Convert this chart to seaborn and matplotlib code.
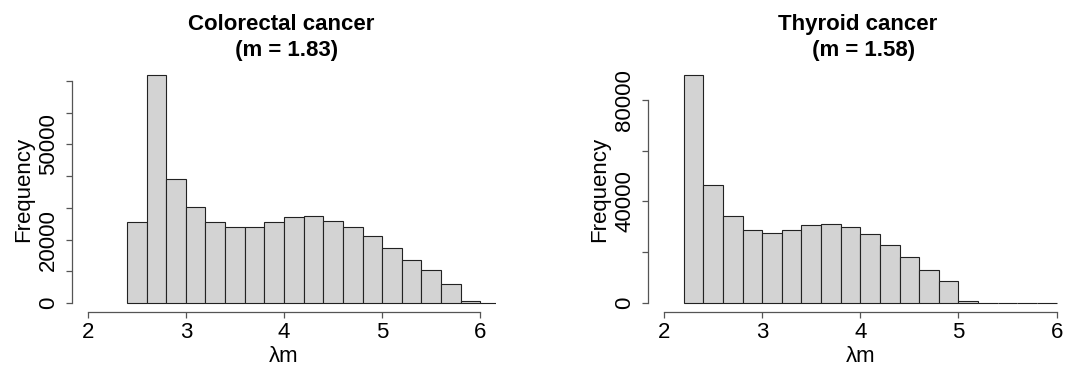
import numpy as np
import pandas as pd
import matplotlib
matplotlib.use("Agg")
import matplotlib.pyplot as plt
import seaborn as sns

# Histogram bin counts of lambda*m for each cancer type (bin width 0.2)
colorectal_breaks = [2.4, 2.6, 2.8, 3.0, 3.2, 3.4, 3.6, 3.8, 4.0, 4.2, 4.4,
                     4.6, 4.8, 5.0, 5.2, 5.4, 5.6, 5.8, 6.0, 6.2]
colorectal_counts = [25500, 71800, 39000, 30200, 25600, 24000, 24000, 25700,
                     27000, 27300, 26000, 24000, 21100, 17300, 13600, 10300,
                     6000, 600, 30]

thyroid_breaks = [2.2, 2.4, 2.6, 2.8, 3.0, 3.2, 3.4, 3.6, 3.8, 4.0, 4.2,
                  4.4, 4.6, 4.8, 5.0, 5.2, 5.4, 5.6, 5.8, 6.0]
thyroid_counts = [89700, 46400, 34300, 28800, 27500, 28700, 30600, 31300,
                  29900, 27100, 23000, 18100, 13200, 8600, 700, 60, 15, 5, 2]

panel_titles = ["Colorectal cancer \n (m = 1.83)", "Thyroid cancer \n (m = 1.58)"]
x_ticks = [2, 3, 4, 5, 6]
colorectal_yticks = [0, 10000, 20000, 30000, 40000, 50000, 60000, 70000]
colorectal_ylabels = ["0", "", "20000", "", "", "50000", "", ""]
thyroid_yticks = [0, 20000, 40000, 60000, 80000]
thyroid_ylabels = ["0", "", "40000", "", "80000"]

sns.set_style("ticks")
plt.rcParams["font.family"] = ["Liberation Sans", "DejaVu Sans"]

W, H = 1066, 373
fig = plt.figure(figsize=(W / 100, H / 100), dpi=100)
bottom = (H - 312.3) / H
height = (312.3 - 65.9) / H
width = 424 / W
ax1 = fig.add_axes([72 / W, bottom, width, height])
ax2 = fig.add_axes([648.3 / W, bottom, width, height])

axis_col = "#555555"
panels = [
    (ax1, colorectal_breaks, colorectal_counts, colorectal_yticks, colorectal_ylabels, panel_titles[0]),
    (ax2, thyroid_breaks, thyroid_counts, thyroid_yticks, thyroid_ylabels, panel_titles[1]),
]

for ax, breaks, counts, yticks, ylabels, title in panels:
    edges = np.array(breaks)
    df = pd.DataFrame({"lm": (edges[:-1] + edges[1:]) / 2, "n": counts})
    sns.histplot(data=df, x="lm", weights="n", bins=breaks, ax=ax,
                 color="#D3D3D3", edgecolor="#222222", linewidth=0.8, alpha=1)
    ymax = max(counts)
    ax.set_xlim(1.84, 6.16)
    ax.set_ylim(-0.04 * ymax, 1.04 * ymax)

    ax.set_xticks(x_ticks)
    ax.set_xticklabels([str(t) for t in x_ticks])
    ax.set_yticks(yticks)
    ax.set_yticklabels(ylabels)
    for lab in ax.get_yticklabels():
        lab.set_rotation(90)
        lab.set_va("center")

    for side in ("top", "right"):
        ax.spines[side].set_visible(False)
    ax.spines["left"].set_bounds(yticks[0], yticks[-1])
    ax.spines["bottom"].set_bounds(x_ticks[0], x_ticks[-1])
    for side in ("left", "bottom"):
        ax.spines[side].set_color(axis_col)
        ax.spines[side].set_linewidth(0.9)

    ax.tick_params(axis="both", direction="out", length=4.3, width=0.9,
                   color=axis_col, labelsize=16, labelcolor="black")
    ax.tick_params(axis="x", pad=2.5)
    ax.tick_params(axis="y", pad=5)

    ax.set_xlabel("λm", fontsize=16, labelpad=2, color="black")
    ax.set_ylabel("Frequency", fontsize=16, labelpad=3, color="black")
    ax.set_title(title, fontsize=16, fontweight="bold", pad=7,
                 linespacing=1.3, color="black")

fig.savefig("out.png", dpi=100)
